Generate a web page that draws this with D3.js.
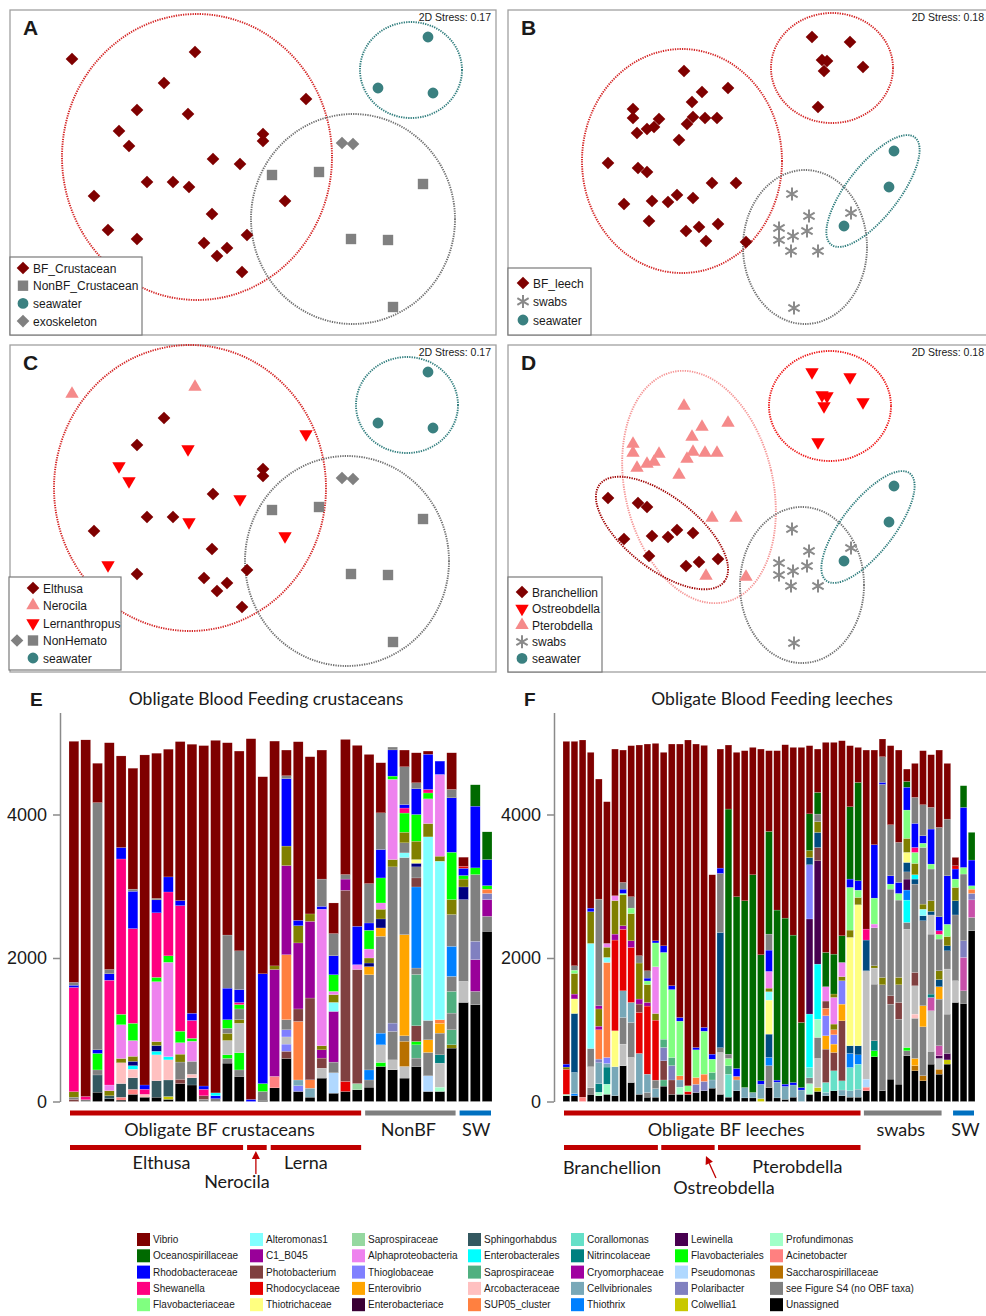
<!DOCTYPE html>
<meta charset="utf-8">
<style>
body { margin: 0; background: #fff; }
svg { display: block; }
text { font-family: "Liberation Sans", Arial, sans-serif; fill: #1a1a1a; }
.cal { font-family: Lato, "Open Sans", sans-serif; }
</style>
<svg width="986" height="1316"></svg>
<script src="https://d3js.org/d3.v7.min.js"></script>
<script>

var svg = d3.select("svg");

// ---------- taxa, legend order (column by column) ----------
var taxonKeys = ["Vib","Oce","Rho","She","Fla", "Alt","C1","Pho","Rcy","Tht", "Sa1","Alp","Tgl","Evi","Ebc",
                 "Sph","Ebl","Sa2","Arc","Sup", "Cor","Nit","Cry","Cel","Thx", "Lew","Fbl","Pse","Pol","Col",
                 "Pro","Aci","Sac","S4","Un"];
var taxonNames = ["Vibrio","Oceanospirillaceae","Rhodobacteraceae","Shewanella","Flavobacteriaceae",
                  "Alteromonas1","C1_B045","Photobacterium","Rhodocyclaceae","Thiotrichaceae",
                  "Saprospiraceae","Alphaproteobacteria","Thioglobaceae","Enterovibrio","Enterobacteriace",
                  "Sphingorhabdus","Enterobacterales","Saprospiraceae","Arcobacteraceae","SUP05_cluster",
                  "Corallomonas","Nitrincolaceae","Cryomorphaceae","Cellvibrionales","Thiothrix",
                  "Lewinella","Flavobacteriales","Pseudomonas","Polaribacter","Colwellia1",
                  "Profundimonas","Acinetobacter","Saccharospirillaceae","see Figure S4 (no OBF taxa)","Unassigned"];
var taxonColors = ["#7f0000","#006a00","#0000ff","#ff0080","#80ff80",
                   "#80ffff","#990099","#804040","#e60000","#ffff80",
                   "#96d8a0","#ee82ee","#8080ff","#ffa500","#3a0034",
                   "#345860","#00ffff","#50b080","#ffc0c0","#ff8040",
                   "#66e0c8","#008080","#a000a0","#78a8b8","#0080ff",
                   "#480050","#00ff00","#b0d8ff","#8080c0","#c8c800",
                   "#a0ffc8","#ff8080","#b87000","#808080","#000000"];
// unnamed shades inside the "see Figure S4" block
var extraKeys = ["olv","lgr","nav","stl","orc"];
var extraColors = ["#808000","#c0c0c0","#000080","#004c80","#c850aa"];

// ---------- panel E: crustaceans, each bar = [taxon, upper bound, ...] from bottom ----------
var barsE = [
 ["Pho",30,"S4",60,"olv",137,"She",1590,"Rho",1620,"S4",1660,"Vib",5020],
 ["S4",25,"She",70,"Vib",5040],
 ["Un",130,"Sph",370,"S4",440,"Fbl",670,"Rho",720,"S4",4165,"Vib",4714],
 ["Un",40,"Sph",80,"olv",150,"Alp",230,"She",1690,"Rho",1780,"S4",1840,"Vib",5000],
 ["Un",20,"Aci",60,"Sph",250,"Arc",540,"olv",600,"Alp",1070,"Fbl",1215,"She",3380,"Rho",3540,"Vib",4816],
 ["Un",100,"Aci",170,"Sph",330,"Arc",450,"Ebl",500,"nav",560,"olv",630,"Alp",850,"Fbl",1090,"She",2410,"Rho",2930,"S4",2960,"Vib",4645],
 ["Un",60,"Arc",100,"She",170,"Rho",230,"Vib",4830],
 ["Un",60,"Sph",290,"Arc",650,"Ebl",700,"nav",780,"olv",835,"Alp",1670,"Fbl",1730,"She",2630,"Rho",2810,"S4",2830,"Vib",4854],
 ["Un",30,"Col",70,"Sph",300,"Arc",580,"Ebl",625,"Alp",1940,"Fbl",2030,"She",2920,"Rho",3130,"Vib",4910],
 ["Un",250,"Pho",310,"S4",550,"olv",660,"Alp",820,"Fbl",980,"She",2730,"Rho",2800,"Vib",5016],
 ["Un",230,"Sph",330,"Arc",380,"S4",560,"Alp",840,"Fbl",880,"She",1130,"Rho",1230,"Vib",4979],
 ["S4",30,"Pho",80,"She",170,"Rho",216,"Vib",4960],
 ["S4",40,"Rho",80,"Ebl",120,"Vib",5033],
 ["Un",535,"S4",600,"Fbl",650,"lgr",850,"olv",950,"S4",1020,"Fbl",1140,"Rho",1580,"S4",2320,"Vib",5000],
 ["Un",350,"S4",440,"Fbl",680,"lgr",1090,"olv",1140,"S4",1290,"Fbl",1350,"She",1380,"Rho",1560,"S4",2100,"Vib",4884],
 ["Rho",30,"Vib",5056],
 ["Un",15,"S4",140,"Fbl",250,"Rho",1780,"Vib",4526],
 ["Un",190,"Aci",350,"C1",1840,"olv",1890,"Vib",5023],
 ["Un",600,"Pho",700,"Tgl",800,"lgr",900,"Tgl",1000,"S4",1140,"Sup",2046,"C1",3288,"olv",3560,"Rho",4500,"S4",4540,"Vib",4898],
 ["Un",140,"Tgl",220,"Cel",300,"Sup",1116,"Pho",1290,"C1",2210,"olv",2450,"Rho",2525,"Vib",5014],
 ["Un",60,"Cel",186,"Sup",302,"Pho",1442,"C1",2511,"olv",2614,"Vib",4805],
 ["Un",326,"lgr",465,"Pho",605,"C1",720,"olv",777,"Alp",2680,"Rho",2720,"S4",3100,"Vib",4898],
 ["Un",116,"Pse",400,"S4",549,"C1",1256,"Alt",1381,"olv",1490,"Alp",1535,"Fbl",1767,"Rho",2032,"S4",2340,"Vib",2767],
 ["Un",140,"Rcy",280,"Pho",2944,"C1",3100,"S4",3163,"Vib",5046],
 ["Un",163,"Sa1",250,"Pho",1840,"Alp",1907,"Rho",2442,"Vib",4963],
 ["Un",200,"S4",300,"Thx",440,"S4",1767,"Evi",1880,"nav",1930,"olv",2000,"Alp",2125,"Fbl",2386,"Rho",2488,"S4",3037,"Vib",4837],
 ["Un",488,"Fbl",544,"lgr",790,"Thx",953,"S4",2302,"Evi",2419,"nav",2544,"olv",2680,"Alp",2767,"Fbl",3116,"Rho",3512,"S4",4023,"Vib",4721],
 ["Un",442,"lgr",580,"S4",977,"Pol",1093,"S4",3270,"olv",3372,"Alp",4490,"Fbl",4535,"Rho",4900,"S4",4940],
 ["Un",326,"lgr",488,"Sac",840,"S4",916,"Evi",2325,"S4",3400,"Alt",3465,"S4",3605,"olv",3753,"Fbl",4020,"She",4090,"Rho",4139,"S4",4665,"Vib",4898],
 ["Un",488,"S4",605,"Sa2",790,"Fbl",837,"Pho",1056,"Sa2",1770,"S4",1860,"Thx",2990,"Pho",3116,"S4",3270,"nav",3320,"Tht",3372,"olv",3628,"Fbl",4000,"Rho",4360,"S4",4442,"Vib",4860],
 ["Un",140,"Pse",358,"S4",684,"Evi",860,"S4",1130,"Alt",3688,"olv",3874,"Alp",4218,"Fbl",4300,"She",4349,"Rho",4840,"Vib",4884],
 ["Un",140,"Pro",200,"lgr",535,"Nit",651,"S4",953,"Evi",1090,"Sup",1140,"Alt",3349,"olv",3419,"Alp",4558,"Rho",4744],
 ["Un",744,"olv",790,"Sa2",1000,"S4",1232,"Sa2",1535,"S4",1744,"Thx",2163,"S4",2605,"olv",2814,"Fbl",3474,"Rho",4232,"S4",4349,"Vib",4860],
 ["Un",1381,"lgr",1674,"S4",2814,"nav",2990,"olv",3100,"Fbl",3150,"Rho",3250,"Rcy",3279,"Vib",3405],
 ["Un",1349,"S4",1535,"C1",1977,"Pol",2233,"S4",3163,"Fbl",3256,"Rho",4116,"Oce",4414],
 ["Un",2372,"S4",2581,"C1",2814,"Pol",2900,"Sup",2960,"Fbl",3009,"Rho",3372,"Oce",3758]
];

// ---------- panel F: leeches ----------
var barsF = [
 ["Un",80,"Pro",100,"Rcy",450,"olv",480,"Rho",521,"Vib",5019],
 ["Un",80,"Thx",110,"Cel",405,"stl",1227,"Tht",1430,"Cry",1497,"olv",1785,"Fla",1830,"S4",1892,"Vib",5019],
 ["Aci",60,"Vib",5038],
 ["Un",100,"S4",195,"lgr",484,"S4",739,"Alt",2203,"olv",2645,"Rho",2695,"Vib",4866],
 ["Un",80,"Pro",130,"Nit",250,"Cel",540,"Pol",591,"Sup",1000,"Cry",1050,"olv",1290,"Cry",1334,"S4",2821,"Vib",4494],
 ["Un",100,"Pro",242,"Nit",480,"Cel",530,"Tgl",614,"Sup",1938,"Alt",2008,"olv",2150,"Alp",2203,"Vib",4178],
 ["Un",80,"Cel",484,"Tht",986,"Rcy",2250,"Cry",2333,"olv",2800,"Alp",2868,"Vib",4912],
 ["Un",498,"lgr",800,"S4",1171,"Cel",1543,"Rcy",2400,"Cry",2450,"olv",2880,"Fla",2900,"Rho",2960,"S4",3053,"Vib",4898],
 ["Un",265,"lgr",614,"S4",1102,"Cel",1381,"Rcy",2147,"Cry",2240,"olv",2620,"Fla",2696,"S4",2854,"Vib",4959],
 ["Un",100,"Cel",670,"Rcy",1242,"Pho",1358,"Cry",1428,"olv",1930,"S4",2032,"Vib",4968],
 ["Un",60,"S4",126,"Cel",381,"Rcy",1330,"Cry",1381,"olv",1630,"Fla",1680,"Rho",1720,"S4",1822,"Vib",4982],
 ["Un",60,"Cel",180,"S4",298,"Rcy",1134,"olv",1227,"Alp",1878,"Fla",2210,"Rho",2240,"Vib",4991],
 ["Un",214,"Sa2",300,"Pho",567,"Pol",753,"Sa2",869,"Fla",2078,"Rho",2170,"Vib",4866],
 ["Un",100,"Pho",300,"Pol",500,"Sa2",614,"Fla",1560,"Rho",1614,"Vib",4982],
 ["Un",100,"Pro",200,"Cel",300,"Sup",358,"Fla",1120,"Rho",1171,"Vib",4982],
 ["Un",100,"Rcy",140,"Fla",219,"Vib",5038],
 ["Un",125,"Pol",240,"Sup",335,"Fla",720,"Rho",753,"Vib",4982],
 ["Un",150,"Pol",280,"Sup",381,"Fla",980,"Rho",1033,"Vib",4963],
 ["Un",186,"Cel",300,"Sa2",405,"Fla",590,"Rho",660,"Vib",3160],
 ["Un",100,"lgr",683,"S4",750,"stl",2356,"S4",3179,"Rho",3253,"Vib",4912],
 ["Un",60,"Cor",380,"Sa2",498,"Fla",600,"S4",660,"Oce",4076,"Vib",4968],
 ["Un",149,"Cel",300,"Sup",350,"Rho",460,"Oce",2854,"Vib",4866],
 ["Un",50,"Cel",195,"Oce",2798,"Vib",4889],
 ["Un",50,"Cel",126,"Oce",3160,"Vib",4935],
 ["Col",40,"Cel",240,"Rho",288,"Oce",2045,"Vib",4912],
 ["Un",195,"S4",500,"Thx",614,"stl",939,"Tht",1413,"Alt",1530,"olv",1580,"Alp",1813,"Rho",2110,"S4",2333,"Oce",3764,"Vib",4889],
 ["Un",50,"Cel",270,"Rho",298,"Oce",2668,"Vib",4889],
 ["Un",30,"Cel",210,"Rho",242,"Oce",2556,"Vib",4972],
 ["Un",60,"Cel",230,"Rho",265,"Oce",2319,"Vib",4935],
 ["Cel",160,"Rho",195,"Oce",1102,"Vib",4935],
 ["Un",100,"Pro",250,"S4",330,"Cor",474,"Ebl",1219,"Lew",2544,"Tgl",3300,"stl",3400,"olv",3497,"Oce",4009,"Vib",4959],
 ["Un",140,"Col",195,"lgr",600,"S4",893,"Pro",1148,"Ebl",1915,"Lew",3355,"Pho",3540,"stl",3750,"olv",3900,"S4",4006,"Oce",4308,"Vib",4912],
 ["Un",80,"Cel",126,"Cor",265,"Pho",730,"Evi",916,"Tgl",1195,"Sup",1300,"Pho",1400,"Alp",1600,"Oce",2078,"Vib",5005],
 ["Un",149,"Cor",428,"Pho",684,"Evi",800,"Tgl",930,"Sup",1000,"olv",1079,"Alp",1450,"olv",1498,"Oce",2054,"Vib",5005],
 ["Un",80,"Cel",160,"Cor",288,"Pho",1125,"Evi",1357,"Tgl",1683,"olv",1740,"Alp",1938,"Oce",2310,"Vib",5028],
 ["Un",60,"Cel",149,"Cor",474,"Thx",670,"stl",777,"Tht",2287,"olv",2389,"Fla",2984,"Rho",3100,"Oce",4108,"Vib",4959],
 ["Un",60,"Cel",172,"Cor",520,"Thx",650,"stl",776,"Tht",2742,"olv",2844,"Fla",2946,"Rho",3077,"Oce",4447,"Vib",4935],
 ["Un",149,"Aci",200,"Pse",312,"lgr",1822,"stl",2250,"She",2403,"Vib",4898],
 ["Un",623,"Fbl",707,"Nit",846,"S4",1636,"lgr",1860,"olv",1892,"S4",2420,"Alp",2473,"Fla",2835,"Rho",3579,"Vib",4898],
 ["Un",149,"S4",1627,"olv",1729,"S4",4420,"Rho",4448,"S4",4805,"Vib",5052],
 ["Un",312,"S4",1357,"Pho",1473,"S4",2960,"Fla",3030,"Rho",3146,"S4",3857,"Vib",4959],
 ["Un",242,"S4",1148,"Pho",1381,"S4",1627,"olv",1729,"S4",2807,"Fla",2900,"Rho",3053,"S4",3611,"Vib",4898],
 ["Un",637,"S4",707,"Fbl",753,"lgr",2400,"S4",2496,"Ebl",2807,"Thx",2947,"Lew",3100,"S4",3200,"stl",3332,"Tht",3472,"olv",3667,"Fla",4062,"Rho",4380,"Oce",4461,"Vib",4633],
 ["Un",428,"Sac",500,"Evi",600,"S4",1160,"Arc",1218,"lgr",1613,"Pho",1799,"S4",3030,"stl",3100,"Ebl",3160,"olv",3318,"Fla",3472,"She",3541,"Rho",3876,"S4",4238,"Vib",4712],
 ["Un",288,"Sac",360,"S4",1041,"Evi",1334,"S4",2519,"stl",2589,"Alt",2680,"olv",2751,"S4",3541,"Fla",3600,"Rho",3704,"S4",4136,"Vib",4889],
 ["Un",521,"S4",700,"lgr",1265,"orc",1450,"Nit",1497,"S4",2333,"lgr",2600,"stl",2650,"olv",2798,"S4",3240,"Fla",3309,"Rho",3797,"S4",4099,"Vib",4833],
 ["Un",381,"Sac",450,"lgr",600,"Lew",637,"orc",777,"S4",1427,"Evi",1600,"stl",1700,"olv",1822,"S4",2264,"Fla",2330,"She",2380,"Rho",2575,"S4",3820,"Vib",4898],
 ["Un",521,"Col",580,"Lew",670,"S4",1218,"lgr",1846,"S4",2100,"stl",2170,"olv",2300,"Fla",2470,"Rho",3146,"S4",3936,"Vib",4712],
 ["Un",1381,"lgr",1683,"S4",2600,"stl",2798,"olv",2984,"Fla",3100,"Rho",3240,"Rcy",3286,"Vib",3402],
 ["Un",1367,"S4",1543,"orc",2008,"Pol",2240,"S4",3170,"Fla",3262,"Rho",4099,"Oce",4401],
 ["Un",2379,"S4",2565,"orc",2810,"Pol",2900,"Sup",2960,"Fla",3007,"Rho",3365,"Oce",3751]
];

var ticksY = [0, 2000, 4000];
var groupsE = [["Obligate BF crustaceans",0,24,"#c00000"],["NonBF",25,32,"#7f7f7f"],["SW",33,35,"#0070c0"]];
var subE = [["Elthusa",0,14],["Nerocila",15,16],["Lerna",17,24]];
var groupsF = [["Obligate BF leeches",0,36,"#c00000"],["swabs",37,46,"#7f7f7f"],["SW",48,50,"#0070c0"]];
var subF = [["Branchellion",0,11],["Ostreobdella",12,18],["Pterobdella",19,36]];

// ---------- NMDS ordinations (panel units, 486 x 325) ----------
var crustPts = [
 [62,49,"Ner"],[185,42,"Ner"],[154,73,"Elt"],[296,89,"Ler"],[127,100,"Elt"],[178,104,"Ler"],[109,121,"Ler"],
 [119,136,"Ler"],[253,124,"Elt"],[253,131,"Elt"],[203,149,"Elt"],[230,154,"Ler"],[137,172,"Elt"],[163,172,"Elt"],
 [179,177,"Ler"],[84,186,"Elt"],[275,191,"Ler"],[202,204,"Elt"],[98,220,"Ler"],[127,229,"Elt"],[237,225,"Elt"],
 [194,233,"Elt"],[217,238,"Elt"],[207,246,"Elt"],[232,262,"Elt"],
 [262,165,"Non"],[309,162,"Non"],[413,174,"Non"],[341,229,"Non"],[378,230,"Non"],[383,297,"Non"],
 [332,133,"Exo"],[343,134,"Exo"],
 [418,27,"SW"],[368,78,"SW"],[423,83,"SW"]
];
var leechPts = [
 [176,61,"Pte"],[194,82,"Pte"],[220,78,"Pte"],[184,92,"Pte"],[125,99,"Pte"],[125,108,"Pte"],[151,109,"Pte"],
 [185,107,"Pte"],[197,108,"Pte"],[209,108,"Pte"],[179,114,"Pte"],[129,123,"Pte"],[139,119,"Pte"],[146,117,"Pte"],
 [171,130,"Pte"],[204,173,"Pte"],[228,173,"Pte"],[198,231,"Pte"],[238,232,"Pte"],
 [100,153,"Bra"],[130,158,"Bra"],[139,162,"Bra"],[116,194,"Bra"],[144,191,"Bra"],[160,192,"Bra"],[169,185,"Bra"],
 [185,188,"Bra"],[141,211,"Bra"],[178,221,"Bra"],[191,217,"Bra"],[210,214,"Bra"],
 [304,27,"Ost"],[342,32,"Ost"],[314,50,"Ost"],[319,51,"Ost"],[316,61,"Ost"],[355,57,"Ost"],[310,97,"Ost"],
 [284,184,"Swab"],[301,206,"Swab"],[343,203,"Swab"],[271,218,"Swab"],[285,226,"Swab"],[299,221,"Swab"],
 [271,230,"Swab"],[283,241,"Swab"],[310,241,"Swab"],[286,298,"Swab"],
 [386,141,"SW"],[381,177,"SW"],[336,216,"SW"]
];
// [cx, cy, rx, ry, rotation, group]
var ellA = [[187,147,135,143,0,"BF"],[343,209,102,105,0,"Non"],[401,60,51,48,0,"SW"]];
var ellC = [[180,143,136,143,0,"BF"],[337,216,102,105,0,"Non"],[397,60,51,48,0,"SW"]];
var ellB = [[174,151,100,112,0,"BF"],[324,58,61,55,0,"BF"],[297,237,62,77,0,"Swab"],[365,181,68,26,-52,"SW"]];
var ellD = [[322,61,61,55,0,"Ost"],[191,142,74,118,-13,"Pte"],[154,188,79,36,38,"Bra"],[294,240,62,78,0,"Swab"],[360,182,68,26,-52,"SW"]];

var legA = [["BF","BF_Crustacean"],["Non","NonBF_Crustacean"],["SW","seawater"],["Exo","exoskeleton"]];
var legB = [["BF","BF_leech"],["Swab","swabs"],["SW","seawater"]];
var legC = [["Elt","Elthusa"],["Ner","Nerocila"],["Ler","Lernanthropus"],["Non","NonHemato"],["SW","seawater"]];
var legD = [["Bra","Branchellion"],["Ost","Ostreobdella"],["Pte","Pterobdella"],["Swab","swabs"],["SW","seawater"]];

// ================= drawing =================
var color = d3.scaleOrdinal().domain(taxonKeys.concat(extraKeys)).range(taxonColors.concat(extraColors));

var dark = "#7f0000", pink = "#f58a8a", red = "#ff0000", grey = "#808080", teal = "#3a8080";
// symbol and fill per group, panels A/B merge the species into one BF class
var styleFull = {
  Elt: ["dia", dark], Bra: ["dia", dark], Ner: ["tup", pink], Pte: ["tup", pink],
  Ler: ["tdn", red], Ost: ["tdn", red], Non: ["sq", grey], Exo: ["dia", grey],
  Swab: ["ast", "#8a8a8a"], SW: ["cir", teal], BF: ["dia", dark]
};
var ellColor = { BF: "#d42424", Non: "#707070", SW: "#2f7d7d", Swab: "#707070", Ost: "#ee1414", Pte: "#f59595", Bra: "#a00000" };

function symPath(kind) {
  if (kind === "dia") return d3.symbol(d3.symbolSquare, 80)();
  if (kind === "sq") return d3.symbol(d3.symbolSquare, 108)();
  if (kind === "cir") return d3.symbol(d3.symbolCircle, 92)();
  if (kind === "tup" || kind === "tdn") return d3.symbol(d3.symbolTriangle, 78)();
  return d3.symbol(d3.symbolAsterisk, 120)();
}
function drawSym(g, kind, fill, px, py) {
  var rot = kind === "dia" ? 45 : (kind === "tdn" ? 180 : 0);
  var p = g.append("path").attr("d", symPath(kind))
    .attr("transform", "translate(" + px + "," + py + ") rotate(" + rot + ")");
  if (kind === "ast") p.attr("fill", "none").attr("stroke", fill).attr("stroke-width", 2);
  else p.attr("fill", fill);
}

function ordPanel(o) {
  var x = d3.scaleLinear().domain([0, 486]).range([o.x0, o.x0 + 486]);
  var y = d3.scaleLinear().domain([0, 325]).range([o.y0, o.y0 + 325]);
  var g = svg.append("g");
  g.append("rect").attr("x", o.x0).attr("y", o.y0).attr("width", 486).attr("height", o.h)
    .attr("fill", "#fff").attr("stroke", "#a0a0a0").attr("stroke-width", 1.3);

  o.ell.forEach(function (e) {
    g.append("ellipse")
      .attr("transform", "translate(" + x(e[0]) + "," + y(e[1]) + ") rotate(" + e[4] + ")")
      .attr("rx", x(e[2]) - x(0)).attr("ry", y(e[3]) - y(0))
      .attr("fill", "none").attr("stroke", ellColor[e[5]])
      .attr("stroke-width", 1.9).attr("stroke-dasharray", "1.3 1.1");
  });

  o.pts.forEach(function (p) {
    var s = styleFull[o.map(p[2])];
    drawSym(g, s[0], s[1], x(p[0]), y(p[1]));
  });

  // legend
  var L = o.leg;
  g.append("rect").attr("x", L.x).attr("y", L.y).attr("width", L.w).attr("height", L.h)
    .attr("fill", "#fff").attr("stroke", "#7a7a7a").attr("stroke-width", 1.2);
  o.items.forEach(function (it, i) {
    var s = styleFull[it[0]];
    var cy = L.y + L.first + i * L.step;
    drawSym(g, s[0], s[1], L.mx, cy);
    if (it[0] === "Non" && L.extra) drawSym(g, "dia", grey, L.mx - 16, cy);
    g.append("text").attr("x", L.mx + 10).attr("y", cy + 4.5).attr("font-size", 12).text(it[1]);
  });

  g.append("text").attr("x", o.x0 + 13).attr("y", o.y0 + 25).attr("font-size", 21)
    .attr("font-weight", "bold").attr("fill", "#000").text(o.label);
  g.append("text").attr("x", Math.min(o.x0 + 481, 984)).attr("y", o.y0 + 11).attr("font-size", 10.5)
    .attr("text-anchor", "end").text("2D Stress: " + o.stress);
}

ordPanel({ x0: 10, y0: 10, h: 325, label: "A", stress: "0.17", pts: crustPts, ell: ellA,
  map: function (g) { return (g === "Elt" || g === "Ner" || g === "Ler") ? "BF" : g; },
  items: legA, leg: { x: 10, y: 257, w: 132, h: 78, first: 11, step: 17.7, mx: 23 } });
ordPanel({ x0: 508, y0: 10, h: 325, label: "B", stress: "0.18", pts: leechPts, ell: ellB,
  map: function (g) { return (g === "Bra" || g === "Ost" || g === "Pte") ? "BF" : g; },
  items: legB, leg: { x: 508, y: 268, w: 83, h: 67, first: 15, step: 18.5, mx: 523 } });
ordPanel({ x0: 10, y0: 345, h: 327, label: "C", stress: "0.17", pts: crustPts, ell: ellC,
  map: function (g) { return g; },
  items: legC, leg: { x: 9, y: 577, w: 112, h: 93, first: 11, step: 17.5, mx: 33, extra: true } });
ordPanel({ x0: 508, y0: 345, h: 327, label: "D", stress: "0.18", pts: leechPts, ell: ellD,
  map: function (g) { return g; },
  items: legD, leg: { x: 508, y: 577, w: 94, h: 95, first: 15, step: 16.6, mx: 522 } });

// ---------- stacked bars ----------
function segments(bar) {
  var out = [], lo = 0;
  for (var i = 0; i < bar.length; i += 2) { out.push({ k: bar[i], y0: lo, y1: bar[i + 1] }); lo = bar[i + 1]; }
  return out;
}

function arrow(g, x1, y1, x2, y2) {
  var a = Math.atan2(y2 - y1, x2 - x1), L = 8, hw = 4;
  var bx = x2 - L * Math.cos(a), by = y2 - L * Math.sin(a);
  g.append("line").attr("x1", x1).attr("y1", y1).attr("x2", bx).attr("y2", by)
    .attr("stroke", "#c00000").attr("stroke-width", 1.3);
  g.append("path").attr("fill", "#c00000").attr("d",
    "M" + x2 + "," + y2 + "L" + (bx + hw * Math.sin(a)) + "," + (by - hw * Math.cos(a)) +
    "L" + (bx - hw * Math.sin(a)) + "," + (by + hw * Math.cos(a)) + "Z");
}

function barPanel(o) {
  var x = d3.scaleBand().domain(d3.range(o.bars.length)).range(o.xr).paddingInner(0.17);
  var y = d3.scaleLinear().domain([0, 5420]).range([1101.5, 712.6]);
  var g = svg.append("g");

  g.selectAll("g.bar").data(o.bars).enter().append("g")
    .attr("transform", function (d, i) { return "translate(" + x(i) + ",0)"; })
    .selectAll("rect").data(segments).enter().append("rect")
    .attr("width", x.bandwidth())
    .attr("y", function (d) { return y(d.y1); })
    .attr("height", function (d) { return y(d.y0) - y(d.y1); })
    .attr("fill", function (d) { return color(d.k); })
    .attr("stroke", "#fff").attr("stroke-width", 0.3).attr("stroke-opacity", 0.55);

  var ax = g.append("g").attr("transform", "translate(" + o.axisX + ",0)")
    .call(d3.axisLeft(y).tickValues(ticksY).tickFormat(d3.format("d"))
      .tickSize(7).tickSizeOuter(0).tickPadding(6));
  ax.select(".domain").attr("stroke", "#8a8a8a").attr("stroke-width", 1.5);
  ax.selectAll(".tick line").attr("stroke", "#8a8a8a").attr("stroke-width", 1.5);
  ax.selectAll(".tick text").attr("font-size", 18).attr("font-family", "Liberation Sans, Arial, sans-serif").attr("fill", "#222");

  g.append("text").attr("x", o.axisX - 30).attr("y", 706).attr("font-size", 19).attr("font-weight", "bold")
    .attr("fill", "#000").text(o.label);
  g.append("text").attr("class", "cal").attr("x", o.titleX).attr("y", 705).attr("font-size", 17.5)
    .attr("text-anchor", "middle").text(o.title);

  function span(a, b) { return [x(a) + 1, x(b) + x.bandwidth() - 1]; }
  o.groups.forEach(function (gr, i) {
    var s = span(gr[1], gr[2]);
    g.append("line").attr("x1", s[0]).attr("x2", s[1]).attr("y1", 1113).attr("y2", 1113)
      .attr("stroke", gr[3]).attr("stroke-width", 5);
    g.append("text").attr("class", "cal").attr("x", (s[0] + s[1]) / 2 + o.gdx[i]).attr("y", 1136)
      .attr("font-size", 18).attr("text-anchor", "middle").text(gr[0]);
  });
  o.subs.forEach(function (sb, i) {
    var s = span(sb[1], sb[2]);
    g.append("line").attr("x1", s[0]).attr("x2", s[1]).attr("y1", 1147.5).attr("y2", 1147.5)
      .attr("stroke", "#c00000").attr("stroke-width", 5);
    var lp = o.sdx[i];
    g.append("text").attr("class", "cal").attr("x", (s[0] + s[1]) / 2 + lp[0]).attr("y", lp[1])
      .attr("font-size", 18).attr("text-anchor", "middle").text(sb[0]);
  });
  var a = span(o.subs[1][1], o.subs[1][2]);
  arrow(g, (a[0] + a[1]) / 2 + o.arr[0], o.arr[1], (a[0] + a[1]) / 2 + o.arr[2], o.arr[3]);
}

barPanel({ bars: barsE, xr: [69, 492], axisX: 60, label: "E", title: "Obligate Blood Feeding crustaceans", titleX: 266,
  groups: groupsE, gdx: [4, -2, 1], subs: subE,
  sdx: [[5, 1169], [-20, 1188], [-10, 1169]], arr: [-1, 1174, -1, 1151] });
barPanel({ bars: barsF, xr: [563, 975], axisX: 554, label: "F", title: "Obligate Blood Feeding leeches", titleX: 772,
  groups: groupsF, gdx: [14, -2, 2], subs: subF,
  sdx: [[1, 1174], [36, 1194], [8, 1173]], arr: [28, 1178, 18, 1156] });

// ---------- taxa legend ----------
var legCols = [137, 250, 352, 468, 571, 675, 770];
var lg = svg.append("g");
taxonKeys.forEach(function (k, i) {
  var cx = legCols[Math.floor(i / 5)], cy = 1233 + (i % 5) * 16.3;
  lg.append("rect").attr("x", cx).attr("y", cy).attr("width", 13).attr("height", 13).attr("fill", color(k));
  lg.append("text").attr("x", cx + 16).attr("y", cy + 10).attr("font-size", 10).attr("fill", "#222").text(taxonNames[i]);
});

</script>
